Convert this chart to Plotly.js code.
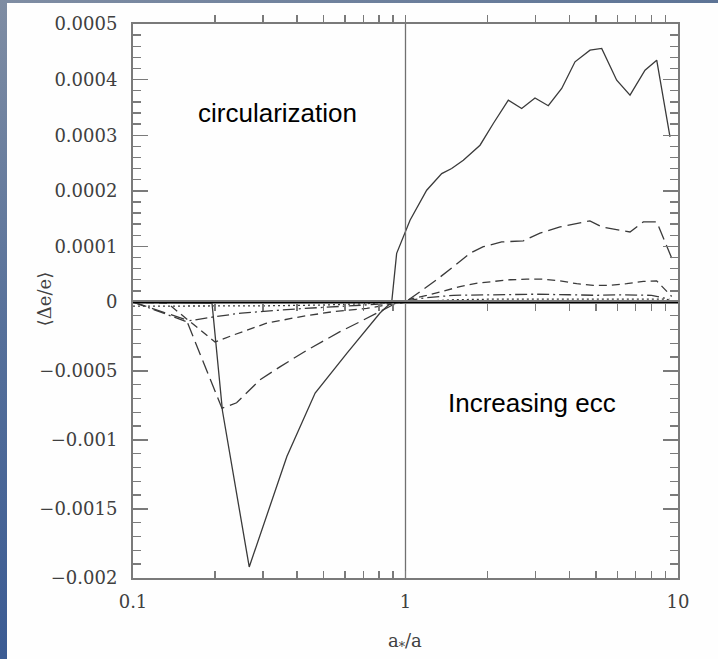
<!DOCTYPE html>
<html><head><meta charset="utf-8">
<script src="https://cdn.plot.ly/plotly-3.0.1.min.js"></script>
<style>
html,body{margin:0;padding:0;width:718px;height:659px;overflow:hidden;}
body{background:linear-gradient(180deg,#7f8da3 0%,#56709a 50%,#3b5b93 100%);position:relative;}
#topbar{position:absolute;left:0;top:0;width:718px;height:3px;background:linear-gradient(90deg,#7f8da3,#5d7496);}
#chart{position:absolute;left:7px;top:3px;width:711px;height:656px;background:#fefefe;}
</style></head><body><div id="topbar"></div><div id="chart"></div>
<script>
// ---- data ----
const solidX = [0.1, 0.195, 0.213, 0.267, 0.367, 0.466, 0.61, 0.806, 0.89, 0.928, 1.039, 1.196, 1.358, 1.477, 1.63, 1.877, 2.1, 2.384, 2.669, 2.987, 3.342, 3.743, 4.188, 4.754, 5.248, 5.957, 6.667, 7.567, 8.354, 9.346];
const solidY = [0, -0.00001, -0.00079, -0.00192, -0.00112, -0.00066, -0.00037, -0.00008, 0, 0.0000876, 0.000147, 0.000201, 0.000231, 0.00024, 0.000255, 0.000282, 0.000321, 0.000363, 0.000348, 0.000367, 0.000353, 0.000384, 0.000432, 0.000453, 0.000456, 0.000399, 0.000372, 0.000417, 0.000435, 0.000297];

const longDashX = [0.1, 0.157, 0.212, 0.24, 0.292, 0.346, 0.434, 0.575, 0.681, 0.806, 0.9, 1.0, 1.13, 1.301, 1.498, 1.725, 1.93, 2.254, 2.706, 3.115, 3.69, 4.75, 5.25, 5.789, 6.667, 7.459, 8.354, 9.48];
const longDashY = [0, -0.00013, -0.00077, -0.00073, -0.000565, -0.00047, -0.00035, -0.000215, -0.000143, -0.00007, -0.00002, 0, 0.0000185, 0.00004, 0.0000635, 0.0000876, 0.0000995, 0.000108, 0.00011, 0.000124, 0.000135, 0.000146, 0.000135, 0.000131, 0.000126, 0.000144, 0.000144, 0.000079];

const medDashX = [0.1, 0.134, 0.2, 0.233, 0.309, 0.41, 0.543, 0.721, 0.902, 1.039, 1.196, 1.375, 1.584, 1.835, 2.1, 2.424, 2.79, 3.21, 3.69, 4.25, 4.89, 5.63, 6.48, 7.46, 8.35, 9.48];
const medDashY = [0, -0.00001, -0.00029, -0.00024, -0.000154, -0.000107, -0.00007, -0.000046, -0.000014, 0.000005, 0.000012, 0.00002, 0.0000275, 0.000034, 0.000037, 0.00004, 0.000041, 0.000041, 0.000038, 0.000033, 0.00003, 0.00003, 0.000033, 0.000037, 0.000038, 0.00001];

const dashDotX = [0.1, 0.156, 0.195, 0.25, 0.4, 0.6, 0.8, 0.9, 1.0, 1.2, 1.5, 2, 3, 4, 5, 6, 7, 8, 9.3];
const dashDotY = [0, -0.00014, -0.00011, -0.00008, -0.00005, -0.00003, -0.00002, -0.00001, 0.000002, 0.000008, 0.000012, 0.000013, 0.000014, 0.000013, 0.000012, 0.000013, 0.000013, 0.000012, 0.000005];

const dottedX = [0.1, 0.2, 0.3, 0.5, 0.7, 0.9, 1.0, 1.5, 2, 3, 5, 7, 9, 9.6];
const dottedY = [-0.00003, -0.00003, -0.000028, -0.000022, -0.000015, -0.000005, 0, 0.000004, 0.000005, 0.000005, 0.000005, 0.000005, 0.000005, 0.000002];

const refLineX = [1, 1];
const xTickVals = [0.1,0.2,0.3,0.4,0.5,0.6,0.7,0.8,0.9,1,2,3,4,5,6,7,8,9,10];
const xTickText = ['0.1','','','','','','','','','1','','','','','','','','','10'];
const yTopTickVals = [0, 0.0001, 0.0002, 0.0003, 0.0004, 0.0005];
const yTopTickText = ['0', '0.0001', '0.0002', '0.0003', '0.0004', '0.0005'];
const yBotTickVals = [-0.002, -0.0015, -0.001, -0.0005];
const yBotTickText = ['\u22120.002', '\u22120.0015', '\u22120.001', '\u22120.0005'];

// ---- traces ----
const lineColor = '#3a3a3a';
const series = [
  {x: solidX, y: solidY, dash: 'solid'},
  {x: longDashX, y: longDashY, dash: '14px,6px'},
  {x: medDashX, y: medDashY, dash: '8px,5px'},
  {x: dashDotX, y: dashDotY, dash: '12px,4px,2px,4px'},
  {x: dottedX, y: dottedY, dash: '2px,3px'}
];
const traces = [];
['y', 'y2'].forEach(ax => {
  series.forEach(s => {
    traces.push({x: s.x, y: s.y, xaxis: 'x', yaxis: ax, mode: 'lines', showlegend: false,
      hoverinfo: 'skip', line: {color: lineColor, width: 1.3, dash: s.dash}});
  });
});
traces.push({x: refLineX, y: [0, 0.0005], xaxis: 'x', yaxis: 'y', mode: 'lines', showlegend: false,
  hoverinfo: 'skip', line: {color: '#707070', width: 1.3}});
traces.push({x: refLineX, y: [-0.002, 0], xaxis: 'x', yaxis: 'y2', mode: 'lines', showlegend: false,
  hoverinfo: 'skip', line: {color: '#707070', width: 1.3}});

const tickFont = {family: 'DejaVu Serif', size: 18, color: '#404040'};
const axisCommon = {
  showline: true, linecolor: '#7a7a7a', linewidth: 2, mirror: 'allticks',
  ticks: 'inside', tickcolor: '#7a7a7a', tickwidth: 1.4,
  showgrid: false, zeroline: false, tickfont: tickFont, automargin: false, fixedrange: true
};

const layout = {
  width: 711, height: 656,
  margin: {l: 126, r: 40, t: 21, b: 81, pad: 0},
  paper_bgcolor: '#fefefe', plot_bgcolor: '#fefefe',
  showlegend: false,
  xaxis: Object.assign({}, axisCommon, {
    type: 'log', range: [-1, 1], anchor: 'y2', tickangle: 0,
    tickmode: 'array', tickvals: xTickVals, ticktext: xTickText, ticklen: 7,
    ticklabelstandoff: 6
  }),
  yaxis: Object.assign({}, axisCommon, {
    domain: [0.4982, 1], range: [0, 0.0005], anchor: 'x',
    tickmode: 'array', tickvals: yTopTickVals, ticktext: yTopTickText, ticklen: 15,
    minor: {dtick: 0.00002, tick0: 0, ticklen: 8, ticks: 'inside', tickcolor: '#7a7a7a', tickwidth: 1.4},
    ticklabelstandoff: 10
  }),
  yaxis2: Object.assign({}, axisCommon, {
    domain: [0, 0.4982], range: [-0.002, 0], anchor: 'x',
    tickmode: 'array', tickvals: yBotTickVals, ticktext: yBotTickText, ticklen: 15,
    minor: {dtick: 0.0001, tick0: 0, ticklen: 8, ticks: 'inside', tickcolor: '#7a7a7a', tickwidth: 1.4},
    ticklabelstandoff: 10
  }),
  shapes: [
    {type: 'line', xref: 'paper', x0: 0, x1: 1, yref: 'y2', y0: 0, y1: 0,
     line: {color: '#000', width: 2}, layer: 'above'}
  ],
  annotations: [
    {text: 'circularization', xref: 'paper', yref: 'paper', x: 0.2651, y: 0.8394,
     showarrow: false, xanchor: 'center', yanchor: 'middle',
     font: {family: 'Liberation Sans, Arial, sans-serif', size: 26, color: '#000'}},
    {text: 'Increasing ecc', xref: 'paper', yref: 'paper', x: 0.7321, y: 0.3159,
     showarrow: false, xanchor: 'center', yanchor: 'middle',
     font: {family: 'Liberation Sans, Arial, sans-serif', size: 26, color: '#000'}},
    {text: '\u27E8\u0394e/e\u27E9', xref: 'paper', yref: 'paper', x: -0.163, y: 0.5036,
     showarrow: false, textangle: -90, xanchor: 'center', yanchor: 'middle',
     font: {family: 'DejaVu Serif', size: 18, color: '#404040'}},
    {text: 'a<sub>*</sub>/a', xref: 'paper', yref: 'paper', x: 0.499, y: -0.116,
     showarrow: false, xanchor: 'center', yanchor: 'middle',
     font: {family: 'DejaVu Serif', size: 18, color: '#404040'}}
  ]
};

Plotly.newPlot('chart', traces, layout, {staticPlot: true, displayModeBar: false});
</script></body></html>
